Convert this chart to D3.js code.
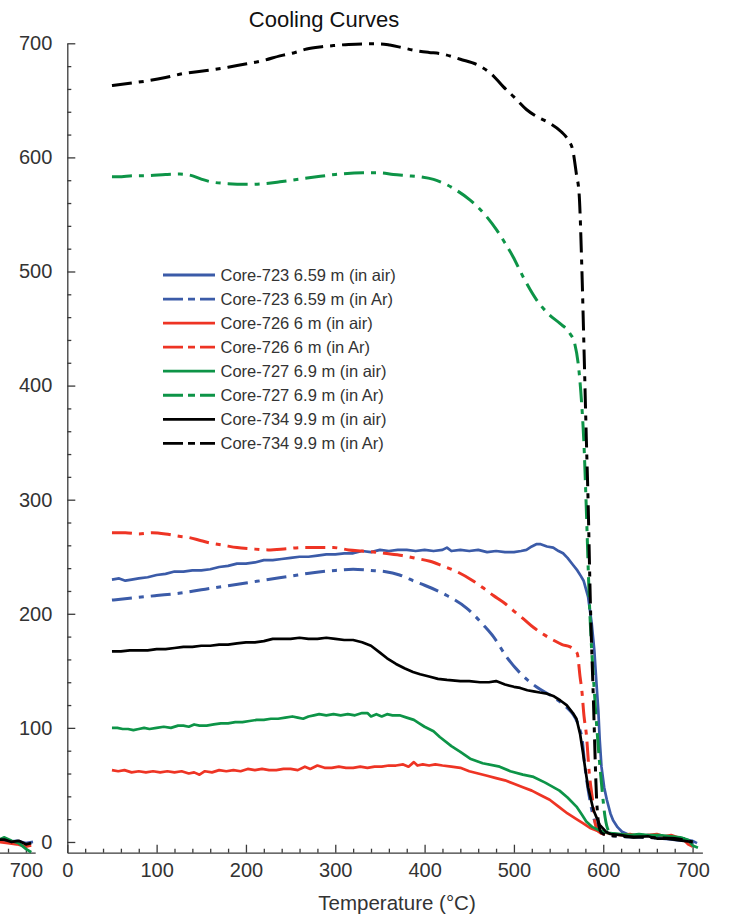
<!DOCTYPE html>
<html>
<head>
<meta charset="utf-8">
<script src="https://cdn.jsdelivr.net/npm/d3@7"></script>
<style>
  html, body { margin: 0; padding: 0; background: #fff; }
  svg { display: block; font-family: "Liberation Sans", Arial, Helvetica, sans-serif; }
</style>
</head>
<body>
<svg id="chart" width="734" height="922"></svg>
<script>
// ---- Axis ticks ----
const xMajorTicks = [0, 100, 200, 300, 400, 500, 600, 700];
const yMajorTicks = [0, 100, 200, 300, 400, 500, 600, 700];
const minorStep = 20;

// ---- Series: [temperature °C, value] ----
const core723Air = [[50,230],[58,231],[65,229],[72,230],[80,231],[90,232],[100,234],[110,235],[120,237],[130,237],[140,238],[150,238],[160,239],[170,241],[180,242],[190,244],[200,244],[210,245],[220,247],[230,247],[240,248],[250,249],[260,250],[270,250],[280,251],[290,252],[300,252],[310,253],[320,253],[330,255],[340,254],[350,256],[360,255],[370,256],[380,256],[390,255],[400,256],[410,255],[420,256],[425,258],[430,255],[440,256],[450,255],[460,256],[470,254],[480,255],[490,254],[500,254],[508,255],[514,256],[520,259],[525,261],[530,261],[537,259],[544,258],[550,255],[555,253],[560,249],[566,243],[571,238],[575,233],[578,229],[583,215],[587,192],[590,168],[592.5,138],[594.5,115],[596,90],[598,66],[601,48],[604,37],[608,25],[611,19],[616,13],[621,9],[630,6],[640,5],[650,6],[660,4],[670,5],[680,3],[690,2],[700,1],[705,-1]];
const core723Ar = [[50,212],[75,214],[100,216],[125,218],[150,221],[175,224],[200,227],[225,230],[250,233],[275,236],[300,238],[320,239],[340,238],[355,237],[372,234],[390,228],[400,225],[425,216],[447,205],[466,190],[477,180],[492,162],[507,148],[525,136],[544,127],[559,118],[566,112],[571,105],[574,98],[576,92],[579.5,66],[585,37],[589,22],[594,12],[600,7],[620,5],[650,4],[680,2],[700,0],[705,-1]];
const core726Air = [[50,63],[57,62],[64,63],[72,61],[80,62],[88,61],[96,62],[104,61],[112,62],[120,61],[128,62],[136,60],[142,61],[148,59],[154,62],[162,61],[170,63],[178,62],[186,63],[194,62],[202,64],[210,63],[218,64],[226,63],[234,63],[242,64],[250,64],[258,63],[266,66],[272,64],[280,67],[288,65],[296,65],[304,66],[312,65],[320,65],[328,66],[336,65],[344,66],[352,66],[360,67],[368,67],[376,68],[382,66],[388,70],[392,67],[398,68],[405,67],[412,68],[420,67],[430,66],[440,65],[450,62],[460,60],[470,58],[480,56],[490,54],[500,51],[510,48],[520,45],[530,41],[540,37],[550,31],[560,25],[570,20],[578,16],[586,12],[596,9],[610,7],[620,6],[630,7],[640,5],[650,6],[660,7],[668,5],[676,6],[684,4],[690,2],[695,-2],[700,-4]];
const core726Ar = [[50,271],[65,271],[80,270],[95,271],[110,270],[125,268],[135,267],[150,264],[160,262],[175,260],[190,258],[205,257],[225,256],[245,257],[262,258],[280,258],[298,258],[315,256],[330,255],[345,254],[355,253],[375,251],[391,248.5],[406,246],[420,242],[436,237],[454,229],[465,223],[477,216],[490,209],[499,203],[510,196],[522,188],[533,182],[544,177],[554,173],[563,171],[568,168],[571,165],[574,145],[576,133],[578.5,110],[581,95],[584.4,60],[588,37],[591,16],[595,9],[600,7],[620,6],[640,6],[660,5],[680,4],[695,0],[700,-3]];
const core727Air = [[50,100],[56,100],[62,99],[68,99],[74,98],[80,99],[86,100],[92,99],[100,100],[108,101],[116,100],[124,102],[130,102],[136,101],[142,103],[148,102],[156,102],[164,103],[172,104],[180,104],[188,105],[196,105],[204,106],[212,107],[220,107],[228,108],[236,108],[244,109],[252,110],[258,109],[264,108],[270,110],[276,111],[282,112],[290,111],[298,112],[306,111],[314,112],[322,111],[330,113],[336,113],[340,110],[346,112],[352,110],[358,112],[364,111],[372,111],[380,109],[388,107],[394,104],[400,101],[410,97],[417,92],[430,84],[440,79],[451,73],[465,69],[484,66],[496,62],[510,59],[522,57],[535,52],[551,45],[560,39],[570,31],[576,24],[581,18],[588,13],[596,10],[605,8],[619,7],[630,6],[640,7],[650,6],[663,6],[675,5],[686,4],[695,2],[700,-3],[706,-5]];
const core727Ar = [[50,583],[57,583],[75,584],[89,584],[110,585],[126,585.4],[137,584.5],[150,581],[160,578.7],[180,577],[200,576.4],[220,577],[238,578.6],[260,581],[279,583],[300,585],[331,586.5],[350,586.5],[365,585],[380,584],[395,583],[410,580.7],[425,576],[436,571],[451,562.6],[469.5,548],[481,536],[490,525],[499,513],[510.5,495],[525.5,475],[540,461.8],[551.5,454.5],[562.7,445.7],[568,437],[572,419],[575.8,384.6],[578.4,349],[580.7,300],[584.4,212],[590.7,124],[598,51.5],[602,22],[606,10],[612,7],[630,6],[660,5],[690,3],[700,0]];
const core734Air = [[50,167],[60,167],[70,168],[80,168],[90,168],[100,169],[110,169],[120,170],[130,171],[140,171],[150,172],[160,172],[170,173],[180,173],[190,174],[200,175],[210,175],[220,176],[230,178],[240,178],[250,178],[260,179],[270,178],[280,178],[290,179],[300,178],[310,177],[320,177],[330,175],[340,172],[350,166],[358,161],[368,156],[378,152],[387,149],[395,147],[405,145],[415,143],[425,142],[440,141],[450,141],[462,140],[472,140],[480,141],[490,138],[500,136],[507,135],[515,133],[522,132],[529,131],[537,130],[544,128],[552,124],[559,120],[566,113],[570,108],[574,95],[577,80],[579.5,66],[583,48],[589,28],[596,15],[603,9],[608,7],[620,6],[634,4],[650,5],[660,3],[671,3],[680,2],[690,1],[700,0]];
const core734Ar = [[50,663],[70,665],[89,667],[110,670],[130,673.5],[160,676.5],[180,679],[201,682],[220,685],[238,689],[255,692],[268,695],[285,697],[298,698],[315,699],[335,699.5],[350,699.5],[361,698.5],[376,696],[391,693.5],[405,692],[417,691],[440,686],[462,680],[475,673],[488,662],[500,653],[514,642],[525,636],[540,630],[553,622.5],[561,615],[566,606],[570,585],[573,568],[576,504],[578.5,431],[581,355],[583,300],[585.5,212],[589,124],[592.6,37],[595,15],[598,8],[605,6],[620,5],[650,4],[680,3],[700,0]];

// Tails of the neighbouring panel's curves, visible at the left edge
const neighbourBlue  = [[660,2],[670,1],[680,0],[690,1],[700,-1],[708,0]];
const neighbourRed   = [[660,1],[670,0],[680,-1],[690,-2],[700,-4],[706,-3]];
const neighbourGreen = [[660,3],[670,2],[676,4],[684,1],[692,-1],[700,-6],[706,-9]];
const neighbourBlack = [[660,3],[668,2],[676,2],[684,0],[692,1],[700,-2],[706,-1]];
const neighbourTicks = [700];

// ---- Legend ----
const legendLabels = [
  "Core-723 6.59 m (in air)", "Core-723 6.59 m (in Ar)",
  "Core-726 6 m (in air)",    "Core-726 6 m (in Ar)",
  "Core-727 6.9 m (in air)",  "Core-727 6.9 m (in Ar)",
  "Core-734 9.9 m (in air)",  "Core-734 9.9 m (in Ar)"
];

const BLUE = "#3b5ba8", RED = "#ee3424", GREEN = "#0d9447", BLACK = "#000000";
const DASH = "20,7,5,7";

const series = [
  { data: core723Air, color: BLUE,  ar: false },
  { data: core723Ar,  color: BLUE,  ar: true  },
  { data: core726Air, color: RED,   ar: false },
  { data: core726Ar,  color: RED,   ar: true  },
  { data: core727Air, color: GREEN, ar: false },
  { data: core727Ar,  color: GREEN, ar: true  },
  { data: core734Air, color: BLACK, ar: false },
  { data: core734Ar,  color: BLACK, ar: true  }
];

const svg = d3.select("#chart");
const AXIS_COLOR = "#3a3a3a", TEXT_COLOR = "#333";

const x = d3.scaleLinear().domain([0, 711]).range([67.3, 702.4]);
const y = d3.scaleLinear().domain([-9.4, 700]).range([852.7, 43.3]);

const minorX = d3.range(0, 701, minorStep).filter(v => v % 100 !== 0);
const minorY = d3.range(0, 701, minorStep).filter(v => v % 100 !== 0);

function styleAxis(g) {
  g.selectAll("path.domain").attr("stroke", AXIS_COLOR).attr("stroke-width", 1.3);
  g.selectAll(".tick line").attr("stroke", AXIS_COLOR).attr("stroke-width", 1.3);
  g.selectAll(".tick text").attr("fill", TEXT_COLOR).attr("font-size", 20)
    .attr("font-family", '"Liberation Sans", Arial, sans-serif');
}

// ---- Neighbouring panel fragment (clipped at the left edge) ----
svg.append("clipPath").attr("id", "leftClip")
  .append("rect").attr("x", 0).attr("y", 0).attr("width", 52).attr("height", 922);
const neighbour = svg.append("g").attr("clip-path", "url(#leftClip)")
  .append("g").attr("transform", "translate(-666.7,0)");

neighbour.append("g").attr("transform", `translate(0,${y.range()[0]})`)
  .call(d3.axisBottom(x).tickValues(minorX.filter(v => v > 640)).tickSize(-4).tickFormat("").tickSizeOuter(0))
  .call(styleAxis)
  .select("path.domain").attr("d", `M${x(640)},0.5H${x.range()[1]}`);
neighbour.append("g").attr("transform", `translate(0,${y.range()[0]})`)
  .call(d3.axisBottom(x).tickValues(neighbourTicks).tickSize(-8).tickPadding(10).tickSizeOuter(0))
  .call(styleAxis)
  .select("path.domain").remove();

const line = d3.line().x(d => x(d[0])).y(d => y(d[1]));
[[neighbourBlue, BLUE], [neighbourRed, RED], [neighbourGreen, GREEN], [neighbourBlack, BLACK]]
  .forEach(([d, c]) => {
    neighbour.append("path").datum(d).attr("d", line)
      .attr("fill", "none").attr("stroke", c).attr("stroke-width", 2.8)
      .attr("stroke-linejoin", "round");
  });

// ---- Main panel axes ----
svg.append("g").attr("transform", `translate(0,${y.range()[0]})`)
  .call(d3.axisBottom(x).tickValues(xMajorTicks).tickSize(-8).tickPadding(10).tickSizeOuter(0))
  .call(styleAxis);
svg.append("g").attr("transform", `translate(0,${y.range()[0]})`)
  .call(d3.axisBottom(x).tickValues(minorX).tickSize(-4).tickFormat("").tickSizeOuter(0))
  .call(styleAxis)
  .select("path.domain").remove();

svg.append("g").attr("transform", `translate(${x.range()[0]},0)`)
  .call(d3.axisLeft(y).tickValues(yMajorTicks).tickSize(-8).tickPadding(15).tickSizeOuter(0))
  .call(styleAxis);
svg.append("g").attr("transform", `translate(${x.range()[0]},0)`)
  .call(d3.axisLeft(y).tickValues(minorY).tickSize(-4).tickFormat("").tickSizeOuter(0))
  .call(styleAxis)
  .select("path.domain").remove();

// ---- Curves ----
const smoothLine = d3.line().x(d => x(d[0])).y(d => y(d[1])).curve(d3.curveMonotoneX);
const plot = svg.append("g");
series.forEach(s => {
  plot.append("path")
    .datum(s.data)
    .attr("d", s.ar ? smoothLine : line)
    .attr("fill", "none")
    .attr("stroke", s.color)
    .attr("stroke-width", s.ar ? 3 : 2.7)
    .attr("stroke-linejoin", "round")
    .attr("stroke-dasharray", s.ar ? DASH : null);
});

// ---- Legend ----
const legend = svg.append("g").attr("transform", "translate(163,275)");
legendLabels.forEach((label, i) => {
  const s = series[i];
  const row = legend.append("g").attr("transform", `translate(0,${i * 24.05})`);
  row.append("line").attr("x1", 0).attr("x2", 52).attr("y1", 0).attr("y2", 0)
    .attr("stroke", s.color).attr("stroke-width", 2.8)
    .attr("stroke-dasharray", s.ar ? "20,5,7,5" : null);
  row.append("text").attr("x", 57.5).attr("y", 0).attr("dy", "0.35em")
    .attr("font-size", 16.5).attr("fill", TEXT_COLOR).text(label);
});

// ---- Titles ----
svg.append("text").attr("x", 324).attr("y", 27).attr("text-anchor", "middle")
  .attr("font-size", 22).attr("fill", "#111").text("Cooling Curves");
svg.append("text").attr("x", 397).attr("y", 910).attr("text-anchor", "middle")
  .attr("font-size", 20.5).attr("fill", TEXT_COLOR).text("Temperature (°C)");
</script>
</body>
</html>
